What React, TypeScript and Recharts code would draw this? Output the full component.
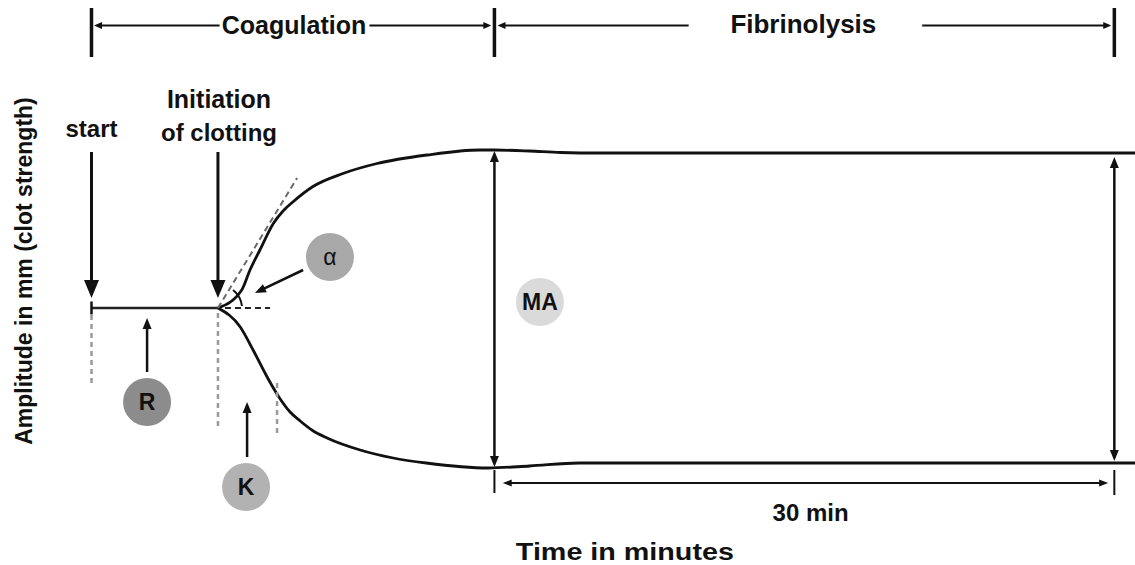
import { LineChart, Line, XAxis, YAxis, ReferenceLine, ReferenceDot } from "recharts";

const FONT = "'Liberation Sans', Arial, sans-serif";
const INK = "#111";

// trace: time in minutes, amplitude in mm (0 = trace centre)
const baseTime = [0, 6.12];
const baseAmp = [0, 0];
const upperTime = [6.12, 7.27, 7.67, 8.15, 8.8, 9.27, 9.77, 10.72, 12.17, 13.82, 16.24, 18.8, 19.5, 21.2, 22.7, 24.6, 50.5];
const upperAmp = [0, 3.6, 7.6, 11.6, 16.9, 19.4, 21.3, 24.3, 26.9, 28.9, 30.6, 31.6, 31.6, 31.4, 31.1, 31.0, 31.0];
const lowerTime = [6.12, 7.2, 7.82, 8.5, 9.1, 9.61, 10.1, 10.7, 11.4, 13.0, 14.6, 16.2, 19.2, 21.2, 23.6, 50.5];
const lowerAmp = [0, -3.8, -8.4, -13.8, -18.0, -20.8, -22.6, -24.5, -26.0, -28.4, -30.0, -31.0, -32.0, -31.6, -31.0, -31.0];

// key times (min)
const START_T = 0;
const R_T = 6.12; // end of R, initiation of clotting
const K_T = 8.98; // end of K
const MA_T = 19.5;
const END_T = 49.5; // MA + 30 min

const toPoints = (ts: number[], amps: number[]) => ts.map((t, i) => ({ t, amp: amps[i] }));
const baseline = toPoints(baseTime, baseAmp);
const upper = toPoints(upperTime, upperAmp);
const lower = toPoints(lowerTime, lowerAmp);

type Heads = "start" | "end" | "both";

function arrowShape(heads: Heads, head = 11, half = 5, width = 2.5, color = INK) {
  return (p: any) => {
    const { x1, y1, x2, y2 } = p;
    const dx = x2 - x1;
    const dy = y2 - y1;
    const len = Math.hypot(dx, dy) || 1;
    const ux = dx / len;
    const uy = dy / len;
    const tri = (tx: number, ty: number, ax: number, ay: number) => {
      const bx = tx - ax * head;
      const by = ty - ay * head;
      return `${tx},${ty} ${bx - ay * half},${by + ax * half} ${bx + ay * half},${by - ax * half}`;
    };
    const sx = heads === "end" ? x1 : x1 + ux * head * 0.7;
    const sy = heads === "end" ? y1 : y1 + uy * head * 0.7;
    const ex = heads === "start" ? x2 : x2 - ux * head * 0.7;
    const ey = heads === "start" ? y2 : y2 - uy * head * 0.7;
    return (
      <g>
        <line x1={sx} y1={sy} x2={ex} y2={ey} stroke={color} strokeWidth={width} />
        {heads !== "end" && <polygon points={tri(x1, y1, -ux, -uy)} fill={color} />}
        {heads !== "start" && <polygon points={tri(x2, y2, ux, uy)} fill={color} />}
      </g>
    );
  };
}

const arcShape = (p: any) => {
  const { x1, y1, x2, y2 } = p;
  return <path d={`M${x1},${y1} A24,24 0 0 1 ${x2},${y2}`} fill="none" stroke={INK} strokeWidth={2} />;
};

const textLabel = (value: string, size = 24) => ({
  value,
  position: "center" as const,
  fill: INK,
  fontSize: size,
  fontWeight: 700,
  fontFamily: FONT,
});

function Note({ t, amp, text, size }: { t: number; amp: number; text: string; size?: number }) {
  return <ReferenceDot x={t} y={amp} r={0} fill="none" stroke="none" ifOverflow="visible" label={textLabel(text, size)} />;
}

function Badge({ t, amp, text, fill }: { t: number; amp: number; text: string; fill: string }) {
  return (
    <ReferenceDot
      x={t}
      y={amp}
      r={24}
      fill={fill}
      stroke="none"
      ifOverflow="visible"
      label={{ ...textLabel(text, 23), fontWeight: text === "α" ? 400 : 700 }}
    />
  );
}

function Seg({
  a,
  b,
  shape,
  stroke = INK,
  width = 2.5,
  dash,
}: {
  a: [number, number];
  b: [number, number];
  shape?: any;
  stroke?: string;
  width?: number;
  dash?: string;
}) {
  return (
    <ReferenceLine
      segment={[
        { x: a[0], y: a[1] },
        { x: b[0], y: b[1] },
      ]}
      stroke={stroke}
      strokeWidth={width}
      strokeDasharray={dash}
      ifOverflow="visible"
      shape={shape}
    />
  );
}

export default function App() {
  const gray = "#9a9a9a";
  return (
    <div style={{ width: 1135, height: 565, background: "#fff" }}>
      <style>{`body { margin: 0; }`}</style>
      <LineChart width={1135} height={565} margin={{ top: 0, right: 0, bottom: 0, left: 0 }}>
        <XAxis
          type="number"
          dataKey="t"
          domain={[-2.25, 50.5]}
          allowDataOverflow
          tick={false}
          tickLine={false}
          axisLine={false}
          height={40}
          label={{
            content: ({ viewBox }: any) => (
              <text
                x={viewBox.x + viewBox.width * 0.532}
                y={viewBox.y + 35}
                textAnchor="middle"
                fontFamily={FONT}
                fontWeight={700}
                fontSize={24}
                textLength={218}
                lengthAdjust="spacingAndGlyphs"
                fill={INK}
              >
                Time in minutes
              </text>
            ),
          }}
        />
        <YAxis
          type="number"
          domain={[-43.4, 61.6]}
          allowDataOverflow
          tick={false}
          tickLine={false}
          axisLine={false}
          width={45}
          label={{
            content: ({ viewBox }: any) => {
              const cx = viewBox.x + 24;
              const cy = viewBox.y + 271;
              return (
                <text
                  x={cx}
                  y={cy}
                  transform={`rotate(-90 ${cx} ${cy})`}
                  textAnchor="middle"
                  dominantBaseline="central"
                  fontFamily={FONT}
                  fontWeight={700}
                  fontSize={23}
                  fill={INK}
                >
                  Amplitude in mm (clot strength)
                </text>
              );
            },
          }}
        />

        <Line data={baseline} dataKey="amp" type="linear" stroke="#222" strokeWidth={2.5} dot={false} isAnimationActive={false} />
        <Line data={upper} dataKey="amp" type="monotone" stroke={INK} strokeWidth={2.8} dot={false} isAnimationActive={false} />
        <Line data={lower} dataKey="amp" type="monotone" stroke={INK} strokeWidth={2.8} dot={false} isAnimationActive={false} />

        {/* header: phases */}
        <Seg a={[START_T, 60]} b={[START_T, 50.2]} width={3.5} />
        <Seg a={[MA_T, 60]} b={[MA_T, 50.2]} width={3.5} />
        <Seg a={[END_T, 60]} b={[END_T, 50.2]} width={3.5} />
        <Seg a={[6.2, 56.5]} b={[0.12, 56.5]} shape={arrowShape("end", 8, 3.5, 2)} />
        <Seg a={[13.45, 56.5]} b={[19.35, 56.5]} shape={arrowShape("end", 8, 3.5, 2)} />
        <Seg a={[28.9, 56.5]} b={[19.65, 56.5]} shape={arrowShape("end", 8, 3.5, 2)} />
        <Seg a={[40.2, 56.5]} b={[49.35, 56.5]} shape={arrowShape("end", 8, 3.5, 2)} />
        <Note t={9.8} amp={56.6} text="Coagulation" size={25} />
        <Note t={34.45} amp={56.9} text="Fibrinolysis" size={26} />

        {/* start / initiation */}
        <Note t={START_T} amp={35.9} text="start" />
        <Note t={R_T + 0.05} amp={41.7} text="Initiation" size={25} />
        <Note t={R_T + 0.05} amp={35.1} text="of clotting" />
        <Seg a={[START_T, 31.2]} b={[START_T, 2.0]} shape={arrowShape("end", 18, 7.5, 3)} />
        <Seg a={[R_T, 31.2]} b={[R_T, 2.0]} shape={arrowShape("end", 18, 7.5, 3)} />
        <Seg a={[START_T, 1.3]} b={[START_T, -1.3]} width={2.5} />

        {/* R and K */}
        <Seg a={[START_T, -1.4]} b={[START_T, -15]} stroke={gray} width={2.5} dash="5 4" />
        <Seg a={[R_T, -1]} b={[R_T, -24]} stroke={gray} width={2.5} dash="5 4" />
        <Seg a={[K_T, -15]} b={[K_T, -25.8]} stroke={gray} width={2.5} dash="5 4" />
        <Seg a={[2.69, -12.8]} b={[2.69, -2.0]} shape={arrowShape("end", 11, 4.5, 2.5)} />
        <Badge t={2.69} amp={-18.8} text="R" fill="#8c8c8c" />
        <Seg a={[7.53, -29.8]} b={[7.53, -18.8]} shape={arrowShape("end", 11, 4.5, 2.5)} />
        <Badge t={7.48} amp={-35.8} text="K" fill="#b2b2b2" />

        {/* alpha angle */}
        <Seg a={[R_T, 0]} b={[9.95, 26]} stroke="#6a6a6a" width={2} dash="6 4" />
        <Seg a={[6.46, 0]} b={[8.64, 0]} stroke="#222" width={2} dash="6 4" />
        <Seg a={[6.85, 3.6]} b={[7.28, 0.4]} shape={arcShape} />
        <Seg a={[10.24, 7.6]} b={[7.91, 3.0]} shape={arrowShape("end", 11, 4.5, 2.5)} />
        <Badge t={11.54} amp={10.2} text="α" fill="#a8a8a8" />

        {/* MA and 30 min */}
        <Seg a={[MA_T, 31.4]} b={[MA_T, -31.8]} shape={arrowShape("both", 11, 4.5, 2.5)} />
        <Badge t={21.7} amp={1.2} text="MA" fill="#dadada" />
        <Seg a={[END_T, 30.2]} b={[END_T, -30.6]} shape={arrowShape("both", 11, 4.5, 2.5)} />
        <Seg a={[MA_T, -32.4]} b={[MA_T, -37]} width={2} />
        <Seg a={[END_T, -32.4]} b={[END_T, -37.4]} width={2} />
        <Seg a={[19.9, -35]} b={[49.2, -35]} shape={arrowShape("both", 9, 3.5, 2.2)} />
        <Note t={34.8} amp={-40.9} text="30 min" />
      </LineChart>
    </div>
  );
}
